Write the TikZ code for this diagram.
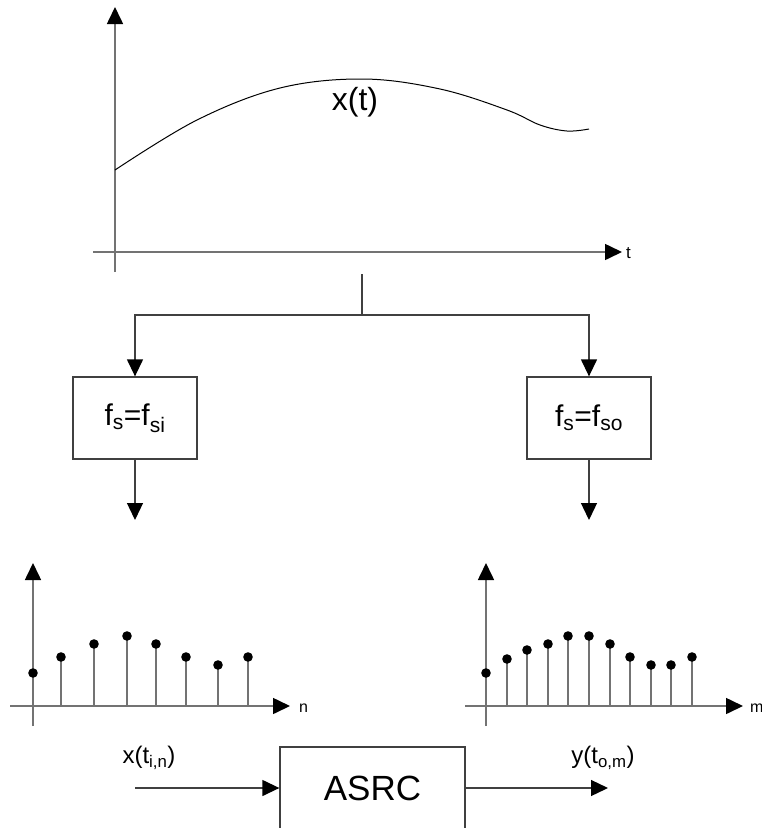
\documentclass[tikz,border=0pt]{standalone}
\usepackage{fontspec}
\setmainfont{Liberation Sans}
\usetikzlibrary{arrows.meta, positioning}

\begin{document}
\begin{tikzpicture}[x=1pt, y=-1pt, >={Triangle[length=17pt, width=16pt, color=black]},
        axis/.style={draw=black!55, line width=1.6pt},
        stem/.style={draw=black!55, line width=1.4pt},
        link/.style={draw=black!75, line width=1.3pt},
        block/.style={rectangle, draw=black!75, line width=1.3pt, minimum width=124pt, minimum height=82pt, font=\fontsize{30}{36}\selectfont},
        lbl/.style={inner sep=0pt, font=\fontsize{24}{28}\selectfont},
        tick/.style={inner sep=0pt, anchor=west, font=\fontsize{16}{18}\selectfont}]
    \useasboundingbox (0,0) rectangle (762,828);

    % continuous input signal
    \draw[axis, ->] (115,272) -- (115,7);
    \draw[axis, ->] (93,252) -- (622,252);
    \node[tick, font=\fontsize{17}{19}\selectfont] (t) at (626,253) {t};
    \draw[black, line width=1pt] plot[smooth, tension=0.6] coordinates {(115,170) (197,120) (280,88) (363,79) (440,89) (507,110) (540,125) (567,131) (589,129)};
    \node[lbl, font=\fontsize{32}{36}\selectfont] (xt) at (355,102) {x(t)};

    % sampling at two rates
    \coordinate (tap) at (362,274);
    \coordinate (split) at (362,315);
    \node[block] (fsi) at (135,418) {f\textsubscript{s}=f\textsubscript{si}};
    \node[block] (fso) at (589,418) {f\textsubscript{s}=f\textsubscript{so}};
    \coordinate (outi) at (135,520);
    \coordinate (outo) at (589,520);

    \draw[link] (tap) -- (split);
    \draw[link, ->] (split) -| (fsi);
    \draw[link, ->] (split) -| (fso);
    \draw[link, ->] (fsi) -- (outi);
    \draw[link, ->] (fso) -- (outo);

    % input samples
    \draw[axis, ->] (33,726) -- (33,563);
    \draw[axis, ->] (10,706) -- (290,706);
    \node[tick] (n) at (299,708) {n};
    \foreach \x/\y in {33/673, 61/657, 94/644, 127/636, 156/644, 186/657, 218/665, 248/657} {
        \draw[stem] (\x,706) -- (\x,\y);
        \fill (\x,\y) circle (4.8pt);
    }

    % output samples
    \draw[axis, ->] (486,726) -- (486,563);
    \draw[axis, ->] (465,706) -- (743,706);
    \node[tick] (m) at (750,708) {m};
    \foreach \x/\y in {486/673, 507/659, 527/650, 548/644, 568/636, 589/636, 610/644, 630/657, 651/665, 671/665, 692/657} {
        \draw[stem] (\x,706) -- (\x,\y);
        \fill (\x,\y) circle (4.8pt);
    }

    % converter
    \node[block, minimum width=185pt, font=\fontsize{35}{40}\selectfont] (asrc) at (372.5,788) {ASRC};
    \coordinate (xin) at (135,788);
    \coordinate (yout) at (608,788);
    \draw[link, ->] (xin) -- (asrc);
    \draw[link, ->] (asrc) -- (yout);
    \node[lbl] (xlab) at (149,758) {x(t\textsubscript{i,n})};
    \node[lbl] (ylab) at (603,758) {y(t\textsubscript{o,m})};
\end{tikzpicture}
\end{document}
